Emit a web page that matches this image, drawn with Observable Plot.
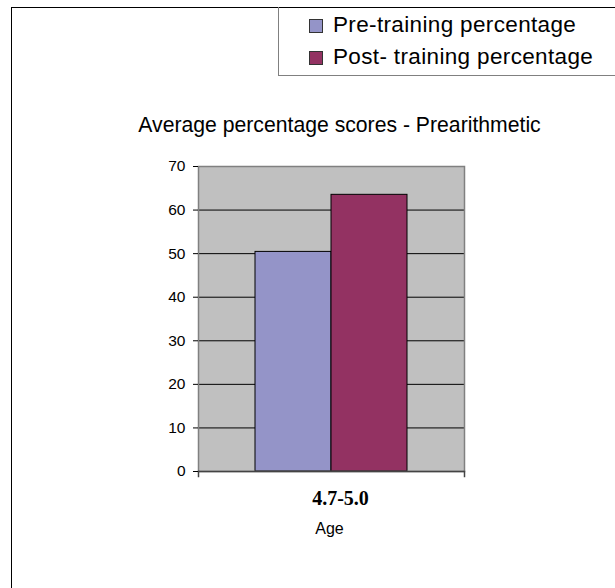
<!DOCTYPE html>
<html>
<head>
<meta charset="utf-8">
<script src="https://cdn.jsdelivr.net/npm/d3@7"></script>
<script src="https://cdn.jsdelivr.net/npm/@observablehq/plot@0.6"></script>
<style>
  html, body { margin: 0; padding: 0; background: #fff; }
  #wrap { position: relative; width: 615px; height: 588px; overflow: hidden; font-family: "Liberation Sans", Arial, sans-serif; }
  #outer { position: absolute; left: 11px; top: 7px; right: -5px; bottom: -5px; border-left: 1.5px solid #000; border-top: 1.5px solid #000; }
  #legend { position: absolute; left: 278px; top: 7px; width: 400px; height: 68px; border-left: 1px solid #808080; border-bottom: 1px solid #808080; }
  .sw { position: absolute; width: 12px; height: 12px; border: 1px solid #333; }
  .lt { position: absolute; font-size: 22.5px; line-height: 22px; letter-spacing: 0.35px; white-space: nowrap; color: #000; }
  #chart { position: absolute; left: 0; top: 0; }
  #chart g[aria-label="y-axis tick label"] { font-size: 15.5px; }
</style>
</head>
<body>
<div id="wrap">
  <div id="outer"></div>
  <div id="legend"></div>
  <div id="chart"></div>
</div>
<script>
const title = "Average percentage scores - Prearithmetic";
const ages = ["4.7-5.0"];
const seriesNames = ["Pre-training percentage", "Post- training percentage"];
const preValues = [50.4];
const postValues = [63.5];
const seriesColors = ["#9494c8", "#933262"];
const yTicks = [0, 10, 20, 30, 40, 50, 60, 70];
const xLabel = "Age";

const rows = [];
ages.forEach((a, i) => {
  rows.push({age: a, series: seriesNames[0], value: preValues[i]});
  rows.push({age: a, series: seriesNames[1], value: postValues[i]});
});

// legend
const legend = document.getElementById("legend");
seriesNames.forEach((name, i) => {
  const sw = document.createElement("div");
  sw.className = "sw";
  sw.style.left = (308 - 278) + "px";
  sw.style.top = (12 + i * 32) + "px";
  sw.style.background = seriesColors[i];
  legend.appendChild(sw);
  const t = document.createElement("div");
  t.className = "lt";
  t.style.left = (332 - 278) + "px";
  t.style.top = (7.3 + i * 32) + "px";
  t.textContent = name;
  legend.appendChild(t);
});

const plot = Plot.plot({
  width: 615,
  height: 588,
  marginLeft: 198,
  marginRight: 151,
  marginTop: 166,
  marginBottom: 117,
  style: {fontFamily: "'Liberation Sans', Arial, sans-serif", fontSize: "15px", background: "transparent", overflow: "visible", color: "#000"},
  x: {type: "band", domain: seriesNames, paddingInner: 0, paddingOuter: 0.74, axis: null},
  y: {domain: [0, 70], axis: null},
  color: {domain: seriesNames, range: seriesColors},
  marks: [
    Plot.frame({fill: "#c0c0c0"}),
    Plot.gridY(yTicks.filter(t => t > 0 && t < 70), {stroke: "#000", strokeOpacity: 1, strokeWidth: 1}),
    Plot.barY(rows, {x: "series", y: "value", fill: "series", stroke: "#000", strokeWidth: 1}),
    Plot.frame({stroke: "#808080", strokeWidth: 1.5}),
    Plot.ruleY([0], {stroke: "#444", strokeWidth: 1.5}),
    Plot.frame({anchor: "left", insetTop: 305, insetBottom: -5, stroke: "#444", strokeWidth: 1.5}),
    Plot.frame({anchor: "right", insetTop: 305, insetBottom: -5, stroke: "#444", strokeWidth: 1.5}),
    Plot.axisY(yTicks, {tickSize: 5, tickPadding: 8, fontSize: 15.5, label: null, stroke: "#000"}),
    Plot.text([title], {frameAnchor: "top", lineAnchor: "middle", dy: -41.5, dx: 8, fontSize: 21.2, text: d => d, fill: "#000"}),
    Plot.text(ages, {frameAnchor: "bottom", lineAnchor: "middle", dy: 27.5, dx: 9, fontSize: 20, fontWeight: "bold", fontFamily: "'Liberation Serif', 'Times New Roman', serif", text: d => d, fill: "#000"}),
    Plot.text([xLabel], {frameAnchor: "bottom", lineAnchor: "middle", dy: 57, dx: -2, fontSize: 16, text: d => d, fill: "#000"})
  ]
});
document.getElementById("chart").appendChild(plot);
</script>
</body>
</html>
